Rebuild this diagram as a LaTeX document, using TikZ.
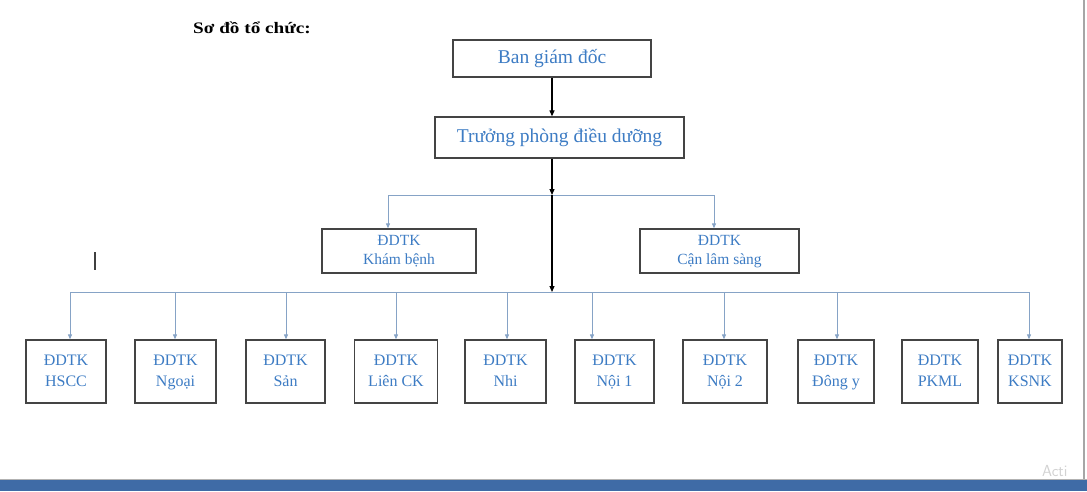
\documentclass[tikz,border=0pt]{standalone}
\usepackage{fontspec}
\usepackage{graphicx}
\setmainfont{Liberation Serif}
\usetikzlibrary{arrows.meta}
\definecolor{txtblue}{HTML}{3D7CC4}
\definecolor{linkblue}{HTML}{86A3C6}
\definecolor{boxgray}{HTML}{444444}
\definecolor{barblue}{HTML}{3F6BA6}
\newcommand\twoline[2]{\strut #1\\\strut #2}
\begin{document}
\begin{tikzpicture}[x=1pt,y=-1pt,
  box/.style={draw=boxgray, line width=1.3pt, fill=white, text=txtblue, align=center, inner sep=0pt, font=\fontsize{16}{21}\selectfont},
  midbox/.style={box, font=\fontsize{15.5}{19}\selectfont},
  topbox/.style={box, font=\fontsize{19.5}{22}\selectfont},
  blk/.style={draw=black, line width=1.2pt, -{Triangle[length=6pt,width=5pt]}},
  lnk/.style={draw=linkblue, line width=1pt},
  lnkarr/.style={lnk, -{Triangle[length=5pt,width=4pt]}}]
\useasboundingbox (0,0) rectangle (1087,491);
\fill[white] (0,0) rectangle (1087,491);
% title
\node[anchor=west, font=\fontsize{16}{18}\selectfont\bfseries, inner sep=0pt] (title) at (193,28) {\scalebox{1.2}[1]{Sơ đồ tổ chức:}};
% top boxes
\node[topbox, minimum width=198pt, minimum height=37pt] (bgd) at (552,58.5) {Ban giám đốc};
\node[topbox, minimum width=249pt, minimum height=41pt] (tp) at (559.5,137.5) {Trưởng phòng điều dưỡng};
% middle boxes
\node[midbox, minimum width=154pt, minimum height=44pt] (kb) at (399,251) {\twoline{ĐDTK}{Khám bệnh}};
\node[midbox, minimum width=159pt, minimum height=44pt] (cls) at (719.5,251) {\twoline{ĐDTK}{Cận lâm sàng}};
% bottom boxes
\node[box, minimum width=80pt, minimum height=63pt] (hscc) at (66,371.5) {\twoline{ĐDTK}{HSCC}};
\node[box, minimum width=81pt, minimum height=63pt] (ngoai) at (175.5,371.5) {\twoline{ĐDTK}{Ngoại}};
\node[box, minimum width=79pt, minimum height=63pt] (san) at (285.5,371.5) {\twoline{ĐDTK}{Sản}};
\node[box, minimum width=83pt, minimum height=63pt] (lienck) at (396,371.5) {\twoline{ĐDTK}{Liên CK}};
\node[box, minimum width=81pt, minimum height=63pt] (nhi) at (505.5,371.5) {\twoline{ĐDTK}{Nhi}};
\node[box, minimum width=79pt, minimum height=63pt] (noi1) at (614.5,371.5) {\twoline{ĐDTK}{Nội 1}};
\node[box, minimum width=84pt, minimum height=63pt] (noi2) at (725,371.5) {\twoline{ĐDTK}{Nội 2}};
\node[box, minimum width=76pt, minimum height=63pt] (dongy) at (836,371.5) {\twoline{ĐDTK}{Đông y}};
\node[box, minimum width=76pt, minimum height=63pt] (pkml) at (940,371.5) {\twoline{ĐDTK}{PKML}};
\node[box, minimum width=64pt, minimum height=63pt] (ksnk) at (1030,371.5) {\twoline{ĐDTK}{KSNK}};
% junctions
\coordinate (j1) at (552,195);
\coordinate (j2) at (552,292);
\coordinate (hl) at (388,195);
\coordinate (hr) at (714,195);
\coordinate (bl) at (70,292);
\coordinate (br) at (1029,292);
% middle branch
\draw[lnk] (hl) -- (hr);
\draw[lnkarr] (hl) -- (hl |- kb.north);
\draw[lnkarr] (hr) -- (hr |- cls.north);
% bottom branch
\draw[lnk] (bl) -- (br);
\foreach \x/\n in {70/hscc,175/ngoai,286/san,396/lienck,507/nhi,592/noi1,724/noi2,837/dongy,1029/ksnk}{
  \draw[lnkarr] (\x,292) -- (\x,292 |- \n.north);
}
% main spine
\draw[blk] (bgd.south) -- (bgd.south |- tp.north);
\draw[blk] (bgd.south |- tp.south) -- (j1);
\draw[blk] (j1) -- (j2);
% cursor
\draw[line width=1.6pt, black!75] (95,252) -- (95,270);
% window frame
\draw[gray!70, line width=1.2pt] (1084,0) -- (1084,479);
\fill[barblue] (0,479) rectangle (1087,491);
\draw[gray!60, line width=1pt] (0,479) -- (1087,479);
\node[anchor=south west, inner sep=0pt, text=gray!35, font=\fontsize{16}{16}\sffamily] (acti) at (1042,477) {Acti};
\end{tikzpicture}
\end{document}
